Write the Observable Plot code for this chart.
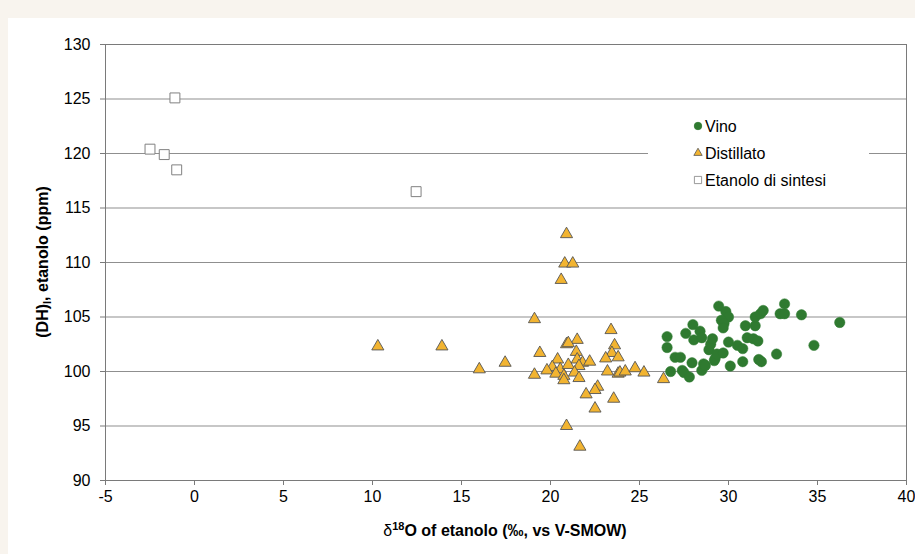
<!DOCTYPE html>
<html><head><meta charset="utf-8">
<script src="https://cdn.jsdelivr.net/npm/d3@7"></script>
<script src="https://cdn.jsdelivr.net/npm/@observablehq/plot@0.6"></script>
<style>
html,body{margin:0;padding:0;background:#f8f4ee;}
#chart{position:absolute;left:8px;top:18px;width:907px;height:536px;background:#fff;}
</style></head><body><div id="chart"></div>
<script>
const seriesNames = ["Vino", "Distillato", "Etanolo di sintesi"];

const vinoX = [26.55,26.55,26.75,27.0,27.3,27.4,27.5,27.8,27.6,27.95,28.0,28.05,28.4,28.5,28.5,28.6,28.7,28.9,29.0,29.1,29.2,29.25,29.35,29.7,29.45,29.85,30.0,29.6,29.75,29.7,30.0,30.1,30.5,30.8,30.8,30.95,31.05,31.4,31.65,31.5,31.5,31.8,31.95,31.7,31.85,32.7,32.9,33.15,33.15,34.1,34.8,36.25];
const vinoY = [103.2,102.2,100.0,101.3,101.3,100.1,99.9,99.5,103.5,100.8,104.3,102.9,103.7,103.1,100.1,100.7,100.55,102.0,102.5,103.0,101.0,101.2,101.6,101.7,106.0,105.5,105.0,104.7,104.4,104.0,102.7,100.5,102.4,102.1,100.9,104.2,103.1,103.0,102.8,104.2,105.0,105.3,105.6,101.1,100.9,101.6,105.3,105.3,106.2,105.2,102.4,104.5];

const distX = [10.3,13.9,16.0,17.45,19.1,19.4,19.1,20.9,20.8,21.25,20.6,21.5,20.9,21.0,23.4,23.6,23.45,23.1,23.8,21.45,20.4,20.1,19.8,20.55,21.0,21.5,21.8,22.2,21.6,20.3,20.75,20.75,21.35,21.6,23.2,23.8,23.9,24.2,24.75,25.25,22.65,22.5,22.0,23.55,22.5,20.9,21.65,26.35];
const distY = [102.3,102.3,100.2,100.8,104.8,101.7,99.7,112.6,109.9,109.9,108.4,102.9,102.5,102.6,103.8,102.4,101.7,101.2,101.3,101.8,101.1,100.4,100.1,100.2,100.6,101.1,100.8,100.9,100.5,99.8,99.6,99.2,99.9,99.4,100.0,99.8,99.9,100.0,100.3,99.9,98.6,98.3,97.9,97.5,96.6,95.0,93.1,99.3];

const sintX = [-1.1,-2.5,-1.7,-1.0,12.45];
const sintY = [125.1,120.4,119.9,118.5,116.5];

const xTicks = [-5,0,5,10,15,20,25,30,35,40];
const yTicks = [90,95,100,105,110,115,120,125,130];

const vino = vinoX.map((x,i)=>({x, y: vinoY[i]}));
const dist = distX.map((x,i)=>({x, y: distY[i]}));
const sint = sintX.map((x,i)=>({x, y: sintY[i]}));

const C_VINO = "#2f7a30", C_DIST = "#f2b431";

const plot = Plot.plot({
  width: 907, height: 536,
  marginLeft: 97, marginRight: 9, marginTop: 26, marginBottom: 74,
  style: {fontFamily: "'Liberation Sans', Arial, sans-serif", fontSize: "16px", color: "#000", background: "#fff", overflow: "visible"},
  x: {domain: [-5, 40]},
  y: {domain: [90, 130]},
  marks: [
    Plot.gridY(yTicks, {stroke: "#8f8f8f", strokeOpacity: 1, strokeWidth: 1}),
    Plot.frame({stroke: "#7a7a7a"}),
    Plot.axisX(xTicks, {tickSize: 5, tickPadding: 5, label: null, fontSize: 16, stroke: "#7a7a7a", fill: "#000", tickFormat: d => String(d)}),
    Plot.axisY(yTicks, {tickSize: 5, tickPadding: 10, label: null, fontSize: 16, stroke: "#7a7a7a", fill: "#000", tickFormat: d => String(d)}),
    Plot.dot(vino, {x: "x", y: "y", r: 5.2, fill: C_VINO, stroke: C_VINO, strokeWidth: 0.5}),
    Plot.dot(dist, {x: "x", y: "y", symbol: "triangle", r: 4.5, fill: C_DIST, stroke: "#555", strokeWidth: 0.9}),
    Plot.dot(sint, {x: "x", y: "y", symbol: "square", r: 5.6, fill: "#fff", stroke: "#808080", strokeWidth: 1})
  ]
});
document.getElementById("chart").appendChild(plot);

const svg = d3.select(plot);
// Legend
const lg = svg.append("g").attr("text-anchor", "start");
lg.append("rect").attr("x", 640).attr("y", 88).attr("width", 221).attr("height", 94).attr("fill", "#fff");
const items = [
  {name: seriesNames[0], type: d3.symbolCircle, size: 44, fill: C_VINO, stroke: C_VINO},
  {name: seriesNames[1], type: d3.symbolTriangle, size: 30, fill: C_DIST, stroke: "#555"},
  {name: seriesNames[2], type: d3.symbolSquare, size: 52, fill: "#fff", stroke: "#808080"}
];
items.forEach((it, i) => {
  const cy = 108 + i * 27;
  lg.append("path").attr("d", d3.symbol(it.type, it.size)()).attr("transform", `translate(690,${cy})`)
    .attr("fill", it.fill).attr("stroke", it.stroke).attr("stroke-width", 0.8);
  lg.append("text").attr("x", 697).attr("y", cy).attr("dy", "0.36em").attr("text-anchor", "start")
    .attr("font-size", 16).attr("fill", "#000").text(it.name);
});

// Y axis title
const yt = svg.append("text").attr("transform", "translate(34,244) rotate(-90)").attr("text-anchor", "middle")
  .attr("dy", "0.36em").attr("font-weight", "bold").attr("font-size", 16).attr("fill", "#000");
yt.append("tspan").text("(DH)");
yt.append("tspan").attr("font-size", 11).attr("dy", "0.25em").text("I");
yt.append("tspan").attr("dy", "-0.17em").text(", etanolo (ppm)");

// X axis title
const xt = svg.append("text").attr("x", 497).attr("y", 518).attr("text-anchor", "middle")
  .attr("font-weight", "bold").attr("font-size", 16).attr("fill", "#000");
xt.append("tspan").attr("font-weight", "normal").text("δ");
xt.append("tspan").attr("font-size", 11).attr("dy", "-0.55em").text("18");
xt.append("tspan").attr("dy", "0.38em").text("O of etanolo (‰, vs V-SMOW)");
</script></body></html>
